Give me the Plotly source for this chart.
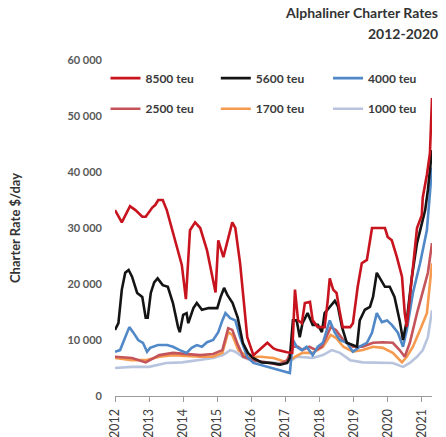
import plotly.graph_objects as go

# Alphaliner time-charter rates by ship size ($/day), decimal years
years_8500 = [2012.0, 2012.2, 2012.44, 2012.6, 2012.8, 2012.9, 2013.1, 2013.18, 2013.27, 2013.4,
              2013.52, 2013.9, 2013.96, 2014.08, 2014.2, 2014.35, 2014.5, 2014.7, 2014.95, 2015.03,
              2015.18, 2015.44, 2015.53, 2015.67, 2015.88, 2016.06, 2016.27, 2016.47, 2016.65, 2016.77,
              2017.05, 2017.2, 2017.28, 2017.37, 2017.48, 2017.57, 2017.72, 2017.8, 2017.95, 2018.15,
              2018.24, 2018.3, 2018.4, 2018.5, 2018.6, 2018.68, 2018.9, 2018.98, 2019.12, 2019.24,
              2019.39, 2019.48, 2019.54, 2019.92, 2020.0, 2020.12, 2020.27, 2020.42, 2020.5, 2020.56,
              2020.74, 2020.86, 2021.0, 2021.03, 2021.15, 2021.24, 2021.3]
rates_8500 = [33200, 31000, 33900, 33200, 32000, 32000, 33700, 34100, 35000, 35000,
              33200, 24300, 23400, 17300, 29600, 31000, 30000, 26000, 18500, 27800,
              24800, 31000, 30000, 23700, 10500, 7300, 8500, 9500, 8500, 8200,
              7800, 7700, 19000, 13500, 13000, 16600, 16800, 13500, 12300, 12300,
              17000, 21000, 19000, 18400, 14800, 12300, 12300, 13000, 19500, 23700,
              24300, 27800, 30000, 30000, 28400, 27800, 24800, 21300, 14800, 12300,
              23000, 30000, 32300, 35500, 39500, 43400, 53200]

years_5600 = [2012.0, 2012.1, 2012.2, 2012.3, 2012.4, 2012.5, 2012.65, 2012.8, 2012.9, 2012.96,
              2013.05, 2013.15, 2013.25, 2013.4, 2013.55, 2013.7, 2013.85, 2013.9, 2014.0, 2014.1,
              2014.15, 2014.3, 2014.4, 2014.55, 2014.75, 2015.0, 2015.1, 2015.2, 2015.3, 2015.45,
              2015.6, 2015.75, 2015.9, 2016.05, 2016.3, 2016.6, 2016.85, 2017.05, 2017.13, 2017.22,
              2017.33, 2017.42, 2017.5, 2017.65, 2017.8, 2017.95, 2018.07, 2018.15, 2018.3, 2018.45,
              2018.54, 2018.66, 2018.8, 2018.98, 2019.1, 2019.18, 2019.33, 2019.48, 2019.57, 2019.68,
              2019.77, 2019.92, 2020.06, 2020.2, 2020.35, 2020.45, 2020.56, 2020.71, 2020.86, 2021.0,
              2021.1, 2021.18, 2021.3]
rates_5600 = [11800, 13000, 19000, 22000, 22500, 21300, 18400, 17700, 14000, 14000,
              18400, 20300, 21000, 19800, 19500, 16600, 12300, 11400, 14500, 14800,
              13000, 15700, 16600, 15400, 15700, 15700, 17700, 19300, 18000, 16600,
              14000, 9500, 7700, 6800, 6000, 5900, 5600, 5900, 6800, 13500,
              13500, 10500, 13000, 14800, 12700, 12700, 11400, 14800, 15900, 17000,
              16000, 12300, 9500, 9100, 8800, 13500, 15400, 15900, 17700, 22000,
              21000, 19500, 19500, 17700, 13500, 10000, 13500, 21300, 27300, 30800,
              33200, 36800, 43900]

years_4000 = [2012.0, 2012.15, 2012.3, 2012.42, 2012.53, 2012.68, 2012.82, 2012.94, 2013.03, 2013.26,
              2013.53, 2013.7, 2013.9, 2014.1, 2014.25, 2014.4, 2014.55, 2014.7, 2014.88, 2015.03,
              2015.15, 2015.24, 2015.38, 2015.53, 2015.67, 2015.88, 2016.06, 2016.45, 2016.85, 2017.13,
              2017.22, 2017.33, 2017.48, 2017.62, 2017.8, 2017.95, 2018.1, 2018.3, 2018.45, 2018.6,
              2018.8, 2018.98, 2019.18, 2019.39, 2019.54, 2019.68, 2019.83, 2019.98, 2020.12, 2020.3,
              2020.45, 2020.56, 2020.74, 2020.95, 2021.15, 2021.3]
rates_4000 = [7900, 8200, 10500, 12300, 11400, 10000, 9500, 7900, 8600, 9100,
              9100, 8800, 8200, 7700, 8600, 9100, 8800, 9600, 10000, 11400,
              13500, 14800, 13900, 13500, 10500, 7000, 5900, 5200, 4500, 4100,
              10000, 8800, 8200, 8800, 7300, 8800, 9500, 13500, 11300, 10000,
              9500, 7900, 8800, 9500, 11300, 14800, 13200, 13500, 12700, 11300,
              8800, 11800, 18400, 23700, 29600, 40800]

years_2500 = [2012.0, 2012.5, 2012.9, 2013.3, 2013.7, 2014.1, 2014.5, 2014.88, 2015.15, 2015.32,
              2015.44, 2015.58, 2015.76, 2016.06, 2016.47, 2016.8, 2017.05, 2017.22, 2017.37, 2017.5,
              2017.7, 2017.9, 2018.07, 2018.33, 2018.48, 2018.7, 2018.98, 2019.27, 2019.57, 2019.86,
              2020.15, 2020.35, 2020.5, 2020.65, 2020.86, 2021.03, 2021.18, 2021.3]
rates_2500 = [7000, 6800, 6000, 7300, 7700, 7500, 7300, 7500, 8200, 12100,
              11800, 9500, 7000, 6400, 5900, 5600, 6400, 8800, 8800, 8200,
              8800, 8200, 8800, 12300, 11800, 10000, 8800, 8800, 9500, 9600,
              9500, 8200, 7000, 9500, 14800, 18400, 22000, 27300]

years_1700 = [2012.0, 2012.5, 2012.9, 2013.3, 2013.7, 2014.1, 2014.5, 2014.88, 2015.15, 2015.32,
              2015.44, 2015.62, 2015.88, 2016.27, 2016.65, 2017.05, 2017.28, 2017.5, 2017.8, 2018.1,
              2018.33, 2018.48, 2018.7, 2018.98, 2019.27, 2019.57, 2019.86, 2020.15, 2020.42, 2020.56,
              2020.74, 2020.95, 2021.15, 2021.3]
rates_1700 = [6800, 6400, 6400, 7000, 7300, 7100, 7000, 7000, 7700, 11400,
              10900, 8200, 7000, 7000, 6800, 6000, 7000, 7700, 7700, 8800,
              10900, 10400, 8800, 7900, 8200, 8800, 8600, 7700, 6000, 7000,
              8800, 11800, 14800, 23700]

years_1000 = [2012.0, 2012.5, 2013.0, 2013.5, 2013.97, 2014.5, 2014.88, 2015.17, 2015.38, 2015.53,
              2015.74, 2015.97, 2016.47, 2016.85, 2017.05, 2017.33, 2017.8, 2018.1, 2018.36, 2018.6,
              2018.9, 2019.27, 2019.77, 2020.15, 2020.45, 2020.65, 2020.86, 2021.03, 2021.18, 2021.3]
rates_1000 = [5000, 5200, 5200, 5900, 6000, 6400, 6800, 7300, 8200, 7900,
              7000, 6400, 6000, 5900, 5900, 7000, 6800, 7300, 8200, 7700,
              6400, 6000, 6000, 5900, 5200, 5900, 7000, 8200, 10500, 15300]

year_ticks = list(range(2012, 2022))
rate_ticks = [0, 10000, 20000, 30000, 40000, 50000, 60000]
rate_tick_labels = ["0", "10 000", "20 000", "30 000", "40 000", "50 000", "60 000"]

FONT = "Lato"

# (name, x, y, colour, legend slot) -- smallest ships drawn first so the big ones sit on top
series = [
    ("1000 teu", years_1000, rates_1000, "#b8c4de", "legend6"),
    ("1700 teu", years_1700, rates_1700, "#f59a4e", "legend5"),
    ("2500 teu", years_2500, rates_2500, "#c4545a", "legend4"),
    ("4000 teu", years_4000, rates_4000, "#5088c8", "legend3"),
    ("5600 teu", years_5600, rates_5600, "#141414", "legend2"),
    ("8500 teu", years_8500, rates_8500, "#c8141e", "legend"),
]

fig = go.Figure()
for name, xs, ys, colour, leg in series:
    fig.add_trace(go.Scatter(
        x=xs, y=ys, name=name, mode="lines",
        line=dict(color=colour, width=2.6),
        legend=leg,
    ))

# one single-entry legend per slot, laid out as a 3 x 2 grid above the lines
legend_font = dict(family=FONT, size=12, color="#3a3a3a", weight="bold")
col_x = [-0.03, 0.318, 0.672]
row_y = [0.946, 0.855]
slots = ["legend", "legend2", "legend3", "legend4", "legend5", "legend6"]
legend_layout = {}
for i, slot in enumerate(slots):
    legend_layout[slot] = dict(
        x=col_x[i % 3], y=row_y[i // 3], xanchor="left", yanchor="middle",
        bgcolor="rgba(0,0,0,0)", itemwidth=30, font=legend_font,
    )

fig.update_layout(
    width=446, height=437,
    margin=dict(l=115, r=14, t=60, b=41, autoexpand=False),
    paper_bgcolor="white", plot_bgcolor="white",
    showlegend=True,
    xaxis=dict(
        range=[2012, 2021.3], tickmode="array", tickvals=year_ticks,
        ticktext=[str(y) for y in year_ticks], tickangle=-90, automargin=False,
        showgrid=False, zeroline=False, showline=True, linecolor="#9a9a9a", linewidth=1,
        ticks="outside", ticklen=5, tickcolor="#9a9a9a", ticklabelstandoff=2,
        tickfont=dict(family=FONT, size=12.5, color="#404040"),
    ),
    yaxis=dict(
        range=[0, 60000], tickmode="array", tickvals=rate_ticks, ticktext=rate_tick_labels,
        showgrid=False, zeroline=False, showline=False, ticks="", automargin=False,
        ticklabelstandoff=12,
        tickfont=dict(family=FONT, size=11, color="#595959", weight="bold"),
    ),
    annotations=[
        dict(text="Alphaliner Charter Rates", xref="paper", yref="paper",
             x=1.025, y=1.14, xanchor="right", yanchor="middle", showarrow=False,
             font=dict(family=FONT, size=14, color="#333333", weight="bold")),
        dict(text="2012-2020", xref="paper", yref="paper",
             x=1.025, y=1.08, xanchor="right", yanchor="middle", showarrow=False,
             font=dict(family=FONT, size=14, color="#333333", weight="bold")),
        dict(text="Charter Rate $/day", xref="paper", yref="paper",
             x=-0.3155, y=0.5, xanchor="center", yanchor="middle", textangle=-90,
             showarrow=False,
             font=dict(family=FONT, size=13, color="#333333", weight="bold")),
    ],
    **legend_layout,
)

fig.write_html("out.html")
